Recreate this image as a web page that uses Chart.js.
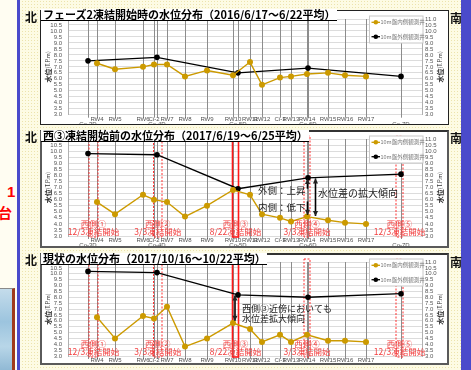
<!DOCTYPE html>
<html>
<head>
<meta charset="utf-8">
<script src="https://cdn.jsdelivr.net/npm/chart.js@4.4.0/dist/chart.umd.min.js"></script>
<style>
html,body{margin:0;padding:0;}
body{width:471px;height:370px;position:relative;overflow:hidden;
  background-color:#fdfbe4;
  background-image:radial-gradient(circle,#ece3ad 0.8px,transparent 1px);
  background-size:3px 3px;
  font-family:"Noto Sans CJK JP","Noto Sans",sans-serif;}
.strip{position:absolute;left:0;top:0;width:17px;height:370px;background:#fffdf2;}
.bar{position:absolute;top:0;height:370px;background:#4a4acb;}
.panel{position:absolute;left:40px;width:409px;background:#fff;}
.frame{position:absolute;left:40px;width:409px;box-sizing:border-box;pointer-events:none;}
canvas{position:absolute;left:40px;}
.title{position:absolute;left:41px;font-weight:700;font-size:11px;line-height:11px;
  background:#fff;border-bottom:1px solid #000;white-space:nowrap;color:#000;padding:0 1px 0 2px;}
.dir{position:absolute;font-weight:700;font-size:12px;line-height:12px;color:#111;}
.side{position:absolute;font-weight:700;color:#f00;font-family:"Liberation Sans","Noto Sans CJK JP",sans-serif;}
.photo{position:absolute;left:0;top:288px;width:12px;height:82px;
  background:linear-gradient(180deg,#c4dceb,#9cc4de 40%,#b8d6e8 70%,#8fb8d4);
  border-right:3px solid #a03a1c;border-top:1px solid #8a8a8a;}
</style>
</head>
<body>
<div class="strip"></div>
<div class="bar" style="left:17px;width:3px;"></div>
<div class="bar" style="left:461px;width:10px;"></div>
<div class="side" style="left:7px;top:184px;font-size:15px;line-height:15px;">1</div>
<div class="side" style="left:-2px;top:206px;font-size:14px;line-height:14px;">台</div>
<div class="photo"></div>

<div class="panel" style="top:10px;height:115px;"></div>
<div class="panel" style="top:130px;height:118px;"></div>
<div class="panel" style="top:253px;height:112px;"></div>

<canvas id="c1" width="409" height="115" style="top:10px;"></canvas>
<canvas id="c2" width="409" height="118" style="top:130px;"></canvas>
<canvas id="c3" width="409" height="112" style="top:253px;"></canvas>

<div class="frame" style="top:10px;height:115px;border:1px solid #222;"></div>
<div class="frame" style="top:130px;height:118px;border:2px solid #5a5a5a;border-top-color:#333;"></div>
<div class="frame" style="top:253px;height:112px;border:2px solid #5a5a5a;border-top-color:#333;"></div>

<div class="title" style="top:9px;">フェーズ2凍結開始時の水位分布（2016/6/17～6/22平均）</div>
<div class="title" style="top:130px;">西③凍結開始前の水位分布（2017/6/19～6/25平均）</div>
<div class="title" style="top:253px;">現状の水位分布（2017/10/16～10/22平均）</div>

<div class="dir" style="left:25px;top:11px;">北</div>
<div class="dir" style="left:25px;top:131px;">北</div>
<div class="dir" style="left:25px;top:254px;">北</div>
<div class="dir" style="left:450px;top:12px;">南</div>
<div class="dir" style="left:450px;top:132px;">南</div>
<div class="dir" style="left:450px;top:256px;">南</div>

<script>
// Observation wells along the 10m platform (distance from the north end)
const innerWells = ['RW4','RW5','RW6','Ci-2','RW7','RW8','RW9','RW10','RW11','RW12','Ci-3','RW13','RW14','RW15','RW16','RW17'];
const innerDist  = [29, 47, 75, 86, 99, 117, 139, 165, 182, 194, 212, 223, 239, 260, 277, 298];
const outerWells = ['Co-3D','Co-4D','Co-5D','Co-6D','Co-7D'];
const outerDist  = [20, 89, 170, 240, 333];
const lineLength = 354;

// Water levels (T.P.m)
const inner2016_06 = [7.3, 6.8, 7.0, 7.2, 7.2, 6.2, 6.7, 6.3, 7.4, 5.5, 6.1, 6.2, 6.4, 6.5, 6.3, 6.2];
const outer2016_06 = [7.5, 7.8, 6.5, 6.9, 6.2];
const inner2017_06 = [5.8, 4.8, 6.4, 6.0, 5.8, 4.6, 5.5, 6.8, 6.4, 4.8, 4.5, 4.2, 4.6, 4.3, 4.1, 4.0];
const outer2017_06 = [9.8, 9.7, 6.9, 7.8, 8.1];
const inner2017_10 = [6.3, 4.5, 6.4, 6.2, 7.2, 3.8, 4.5, 5.8, 5.3, 4.2, 4.8, 4.2, 4.8, 4.3, 4.3, 4.2];
const outer2017_10 = [10.2, 10.1, 8.2, 8.0, 8.3];

// Level axis ticks
const levelMin = 3.0, levelMax = 11.0, levelStep = 0.5;

// West-side freezing sections
const zoneNames = ['西側①','西側②','西側③','西側④','西側⑤'];
const zoneStart = ['12/3凍結開始','3/3凍結開始','8/22凍結開始','3/3凍結開始','12/3凍結開始'];
const zoneFrom  = [21, 85.5, 164.5, 236, 328];
const zoneTo    = [30, 94, 170.5, 242, 335];

const seriesNames = ['10m盤内側観測井','10m盤外側観測井'];

const ORANGE = '#cc9a00';
const JP = '"Noto Sans CJK JP"';

function arrow(ctx, x, yFrom, yTo, both) {
  const head = 5, half = 2.6;
  ctx.beginPath();
  ctx.moveTo(x, yFrom); ctx.lineTo(x, yTo); ctx.stroke();
  const tip = (yt, dir) => {
    ctx.beginPath();
    ctx.moveTo(x, yt);
    ctx.lineTo(x - half, yt - dir * head);
    ctx.lineTo(x + half, yt - dir * head);
    ctx.closePath(); ctx.fill();
  };
  tip(yTo, yTo > yFrom ? 1 : -1);
  if (both) tip(yFrom, yFrom > yTo ? 1 : -1);
}

function levelTitle(ctx, cx, cy) {
  ctx.save();
  ctx.translate(cx, cy);
  ctx.rotate(-Math.PI / 2);
  ctx.textBaseline = 'middle';
  ctx.fillStyle = '#333';
  ctx.font = 'bold 7px ' + JP;
  const a = '水位';
  ctx.font = 'bold 7px ' + JP; const wa = ctx.measureText(a).width;
  ctx.font = '5.5px ' + JP; const b = '(T.P.m)'; const wb = ctx.measureText(b).width;
  const x0 = -(wa + wb) / 2;
  ctx.font = 'bold 7px ' + JP; ctx.fillText(a, x0, 0);
  ctx.font = '5.5px ' + JP; ctx.fillText(b, x0 + wa, 0);
  ctx.restore();
}

function decor(opts) {
  return {
    id: 'decor',
    beforeDatasetsDraw(chart) {
      const { ctx, chartArea: a, scales: { x } } = chart;
      ctx.save();
      // well lines
      ctx.strokeStyle = '#8c8c8c';
      ctx.lineWidth = 1;
      innerDist.concat(outerDist).forEach(d => {
        const px = Math.round(x.getPixelForValue(d)) + 0.5;
        ctx.beginPath(); ctx.moveTo(px, a.top); ctx.lineTo(px, a.bottom + 3); ctx.stroke();
      });
      // freezing sections
      if (opts.zones) {
        zoneFrom.forEach((f, i) => {
          const x1 = x.getPixelForValue(f), x2 = x.getPixelForValue(zoneTo[i]);
          ctx.strokeStyle = i === 2 ? '#ff1a1a' : '#ff3030';
          ctx.lineWidth = i === 2 ? 1.6 : 1;
          ctx.setLineDash(i === 2 ? [] : [2, 1.5]);
          ctx.strokeRect(x1, a.top - 3, x2 - x1, a.bottom - a.top + 4);
        });
        ctx.setLineDash([]);
      }
      ctx.restore();
    },
    afterDatasetsDraw(chart) {
      const { ctx, chartArea: a, scales: { x, y } } = chart;
      ctx.save();
      // well labels
      ctx.font = '6px "Liberation Sans"';
      ctx.fillStyle = '#505050';
      ctx.textAlign = 'center';
      ctx.textBaseline = 'middle';
      innerWells.forEach((w, i) => ctx.fillText(w, x.getPixelForValue(innerDist[i]), a.bottom + 4.5));
      outerWells.forEach((w, i) => ctx.fillText(w, x.getPixelForValue(outerDist[i]), a.bottom + 9.5));

      // freezing section labels
      if (opts.zones) {
        ctx.fillStyle = '#f23c3c';
        ctx.font = '8.5px ' + JP;
        zoneFrom.forEach((f, i) => {
          const cx = x.getPixelForValue((f + zoneTo[i]) / 2);
          ctx.fillText(zoneNames[i], cx, y.getPixelForValue(4.05));
          ctx.fillText(zoneStart[i], cx, y.getPixelForValue(3.35));
        });
      }

      // notes and arrows
      ctx.fillStyle = '#222';
      ctx.strokeStyle = '#000';
      ctx.lineWidth = 1.6;
      ctx.textAlign = 'left';
      if (opts.note === 'rise') {
        const i14 = innerWells.indexOf('RW14'), o6 = outerWells.indexOf('Co-6D'), o5 = outerWells.indexOf('Co-5D');
        ctx.font = '9.5px ' + JP;
        ctx.fillText('外側：上昇', x.getPixelForValue(190), y.getPixelForValue(6.73));
        ctx.fillText('内側：低下', x.getPixelForValue(190), y.getPixelForValue(5.33));
        ctx.font = '10px ' + JP;
        ctx.fillText('水位差の拡大傾向', x.getPixelForValue(250), y.getPixelForValue(6.5));
        const xs = x.getPixelForValue(239.5);
        arrow(ctx, xs, y.getPixelForValue(outer2017_06[o5]), y.getPixelForValue(outer2017_06[o6] - 0.1), false);
        arrow(ctx, xs, y.getPixelForValue(5.85), y.getPixelForValue(inner2017_06[i14] + 0.15), false);
        arrow(ctx, x.getPixelForValue(247.5), y.getPixelForValue(outer2017_06[o6] - 0.05),
              y.getPixelForValue(inner2017_06[i14] + 0.05), true);
      }
      if (opts.note === 'near3') {
        const i10 = innerWells.indexOf('RW10'), o5 = outerWells.indexOf('Co-5D');
        ctx.font = '9px ' + JP;
        ctx.fillText('西側③近傍においても', x.getPixelForValue(174), y.getPixelForValue(7.0));
        ctx.fillText('水位差拡大傾向', x.getPixelForValue(174), y.getPixelForValue(6.2));
        arrow(ctx, x.getPixelForValue(167), y.getPixelForValue(outer2017_10[o5] - 0.05),
              y.getPixelForValue(inner2017_10[i10] + 0.2), true);
      }

      // legend
      const lx = a.right - 53, ly = a.top - 3.5;
      ctx.fillStyle = '#fff';
      ctx.fillRect(lx, ly, 54, 27.5);
      ctx.strokeStyle = '#c8c8c8';
      ctx.lineWidth = 1;
      ctx.strokeRect(lx + 0.5, ly + 0.5, 53.5, 27);
      chart.data.datasets.forEach((ds, i) => {
        const ry = a.top + (i === 0 ? 3.3 : 17.7);
        ctx.strokeStyle = ds.borderColor; ctx.fillStyle = ds.borderColor; ctx.lineWidth = 1.3;
        ctx.beginPath(); ctx.moveTo(lx + 2.5, ry); ctx.lineTo(lx + 11, ry); ctx.stroke();
        ctx.beginPath(); ctx.arc(lx + 6.8, ry, 2.3, 0, Math.PI * 2); ctx.fill();
        ctx.fillStyle = '#777';
        ctx.font = '5.5px ' + JP;
        ctx.textBaseline = 'middle';
        ctx.fillText(ds.label, lx + 11.5, ry);
      });

      // level axis titles
      levelTitle(ctx, 8, (a.top + a.bottom) / 2);
      levelTitle(ctx, 400, (a.top + a.bottom) / 2);
      ctx.restore();
    }
  };
}

function levelAxis(position, width, pad, grid) {
  return {
    position, min: levelMin, max: levelMax,
    afterFit(s) { s.width = width; },
    ticks: { stepSize: levelStep, autoSkip: false, padding: pad, color: '#555',
             font: { size: 6, family: 'Liberation Sans', lineHeight: 1 },
             callback: v => v.toFixed(1) },
    grid: { display: grid, color: '#dcdcdc', drawTicks: false },
    border: { color: '#b0b0b0' }
  };
}

function build(id, inner, outer, padTop, padBottom, opts) {
  return new Chart(document.getElementById(id), {
    type: 'line',
    data: {
      datasets: [
        { label: seriesNames[0], data: innerDist.map((d, i) => ({ x: d, y: inner[i] })),
          borderColor: ORANGE, backgroundColor: ORANGE, borderWidth: 1.4,
          pointRadius: 3, pointBorderWidth: 0, pointBackgroundColor: ORANGE, tension: 0 },
        { label: seriesNames[1], data: outerDist.map((d, i) => ({ x: d, y: outer[i] })),
          borderColor: '#000', backgroundColor: '#000', borderWidth: 1.3,
          pointRadius: 2.8, pointBorderWidth: 0, pointBackgroundColor: '#000', tension: 0 }
      ]
    },
    options: {
      responsive: false, animation: false, devicePixelRatio: 1,
      layout: { padding: { top: padTop, bottom: padBottom, left: 0, right: 0 } },
      plugins: { legend: { display: false }, tooltip: { enabled: false } },
      scales: {
        x: { type: 'linear', min: 0, max: lineLength, display: false },
        y: levelAxis('left', 28, 6, true),
        y2: levelAxis('right', 27, 3, false)
      }
    },
    plugins: [decor(opts)]
  });
}

build('c1', inner2016_06, outer2016_06, 4, 10.3, { zones: false });
build('c2', inner2017_06, outer2017_06, 5, 12, { zones: true, note: 'rise' });
build('c3', inner2017_10, outer2017_10, 3.5, 9, { zones: true, note: 'near3' });
</script>
</body>
</html>
